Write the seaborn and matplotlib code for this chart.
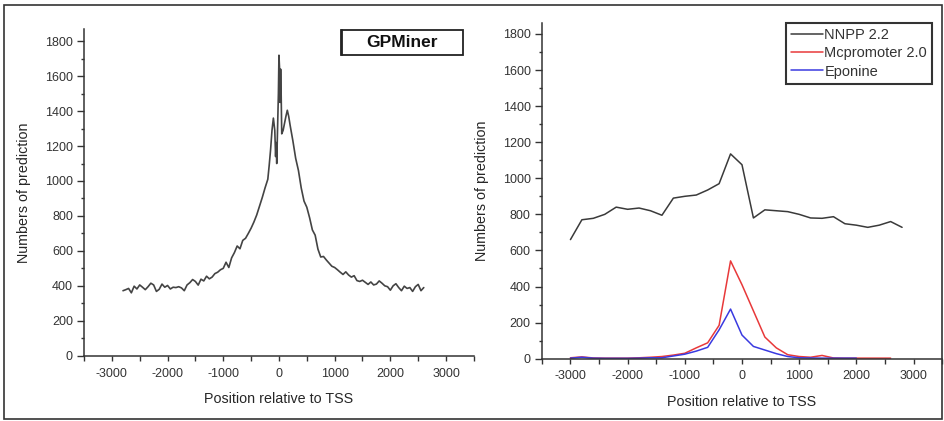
import numpy as np
import pandas as pd
import matplotlib
matplotlib.use("Agg")
import matplotlib.pyplot as plt
from matplotlib.patches import Rectangle
from matplotlib.ticker import MultipleLocator
import seaborn as sns

# GPMiner prediction counts (left panel)
gp_pos = [
    -2800, -2750, -2700, -2650, -2600, -2550, -2500, -2450, -2400, -2350,
    -2300, -2250, -2200, -2150, -2100, -2050, -2000, -1950, -1900, -1850,
    -1800, -1750, -1700, -1650, -1600, -1550, -1500, -1450, -1400, -1350,
    -1300, -1250, -1200, -1150, -1100, -1050, -1000, -950, -900, -850,
    -800, -750, -700, -650, -600, -550, -500, -450, -400, -350,
    -300, -250, -200, -175, -150, -125, -100, -75, -60, -50,
    -40, -25, -10, 0, 10, 20, 30, 40, 50, 75,
    100, 125, 150, 175, 200, 250, 300, 350, 400, 450,
    500, 550, 600, 650, 700, 750, 800, 850, 900, 950,
    1000, 1050, 1100, 1150, 1200, 1250, 1300, 1350, 1400, 1450,
    1500, 1550, 1600, 1650, 1700, 1750, 1800, 1850, 1900, 1950,
    2000, 2050, 2100, 2150, 2200, 2250, 2300, 2350, 2400, 2450,
    2500, 2550, 2600,
]
gp_count = [
    372, 378, 385, 360, 398, 382, 405, 392, 378, 395,
    415, 405, 368, 380, 410, 392, 402, 382, 392, 390,
    395, 388, 372, 405, 418, 436, 425, 404, 438, 428,
    455, 440, 450, 470, 478, 492, 500, 535, 505, 560,
    590, 628, 612, 660, 672, 700, 730, 765, 805, 855,
    905, 960, 1010, 1090, 1180, 1290, 1360, 1290, 1140, 1220,
    1100, 1300, 1500, 1720, 1650, 1450, 1640, 1490, 1270, 1290,
    1330, 1370, 1405, 1370, 1320, 1230, 1130, 1060, 960, 885,
    850, 790, 720, 690, 610, 565, 568, 548, 530, 512,
    505, 492, 478, 465, 480, 462, 450, 458, 430, 425,
    432, 420, 408, 422, 405, 410, 428, 415, 400, 395,
    375, 400, 412, 390, 372, 398, 385, 390, 368, 395,
    408, 372, 390,
]

# other tools (right panel)
nnpp_pos = list(range(-3000, 2801, 200))
nnpp_count = [
    660, 770, 778, 800, 840, 828, 835, 820, 795, 890,
    900, 907, 935, 970, 1135, 1075, 780, 825, 820, 815,
    800, 780, 778, 787, 748, 740, 728, 740, 760, 728,
]
mcp_pos = list(range(-3000, 2601, 200))
mcp_count = [
    5, 10, 4, 3, 3, 3, 5, 8, 12, 20,
    30, 60, 88, 185, 542, 410, 265, 120, 60, 22,
    12, 8, 18, 4, 3, 3, 3, 3, 3,
]
epo_pos = list(range(-3000, 2001, 200))
epo_count = [
    3, 8, 3, 2, 2, 2, 3, 5, 5, 15,
    25, 42, 63, 160, 275, 131, 68, 48, 28, 12,
    5, 4, 3, 3, 3, 3,
]

tool_names = ["NNPP 2.2", "Mcpromoter 2.0", "Eponine"]
tool_colors = {"NNPP 2.2": "#3a3a3a", "Mcpromoter 2.0": "#e8393a", "Eponine": "#3a3ae0"}

gp_df = pd.DataFrame({"pos": gp_pos, "count": gp_count})
tools_df = pd.concat([
    pd.DataFrame({"pos": nnpp_pos, "count": nnpp_count, "tool": tool_names[0]}),
    pd.DataFrame({"pos": mcp_pos, "count": mcp_count, "tool": tool_names[1]}),
    pd.DataFrame({"pos": epo_pos, "count": epo_count, "tool": tool_names[2]}),
])

sns.set_style("ticks")
plt.rcParams["font.family"] = ["Liberation Sans", "DejaVu Sans"]
plt.rcParams["axes.edgecolor"] = "#333333"
plt.rcParams["text.color"] = "#333333"
plt.rcParams["axes.unicode_minus"] = False

tick_font = ["Liberation Sans Narrow", "Liberation Sans", "DejaVu Sans"]

fig = plt.figure(figsize=(9.44, 4.21), dpi=100)
ax1 = fig.add_axes([0.089, 0.1551, 0.413, 0.776])
ax2 = fig.add_axes([0.574, 0.1480, 0.424, 0.798])

sns.lineplot(data=gp_df, x="pos", y="count", ax=ax1,
             color="#444444", linewidth=1.2, sort=False)

sns.lineplot(data=tools_df, x="pos", y="count", hue="tool",
             palette=tool_colors, hue_order=tool_names, ax=ax2,
             linewidth=1.1, sort=False, estimator=None)

for ax, top in [(ax1, 1870), (ax2, 1862)]:
    ax.set_xlim(-3500, 3500)
    ax.set_ylim(0, top)
    ax.xaxis.set_major_locator(MultipleLocator(1000))
    ax.xaxis.set_minor_locator(MultipleLocator(500))
    ax.yaxis.set_major_locator(MultipleLocator(200))
    ax.yaxis.set_minor_locator(MultipleLocator(100))
    ax.spines["top"].set_visible(False)
    ax.spines["right"].set_visible(False)
    ax.spines["left"].set_linewidth(1.1)
    ax.spines["bottom"].set_linewidth(1.1)
    ax.tick_params(axis="y", which="major", length=5, width=1, color="#333333", pad=3)
    ax.tick_params(axis="y", which="minor", length=2.5, width=1, color="#333333")
    ax.tick_params(axis="x", which="both", length=3.5, width=1, color="#333333", pad=5)
    for lab in ax.get_xticklabels() + ax.get_yticklabels():
        lab.set_family(tick_font)
        lab.set_fontsize(9)
        lab.set_color("#333333")
    ax.set_xlabel("Position relative to TSS", fontsize=10.3, labelpad=9)
    ax.set_ylabel("Numbers of prediction", fontsize=10.3, labelpad=10)

# GPMiner label box
ax1.add_patch(Rectangle((0.658, 0.92), 0.314, 0.077, transform=ax1.transAxes,
                        facecolor="white", edgecolor="#222222", linewidth=1.3,
                        clip_on=False))
ax1.plot([0.662, 0.662], [0.92, 0.997], transform=ax1.transAxes,
         color="#222222", linewidth=1.3, clip_on=False)
ax1.text(0.815, 0.958, "GPMiner", transform=ax1.transAxes, ha="center",
         va="center", fontsize=12.5, fontweight="bold", color="#111111")

leg = ax2.legend(loc="upper right", bbox_to_anchor=(0.975, 1.0),
                 borderaxespad=0, frameon=True, fancybox=False,
                 fontsize=10.5, handlelength=2.2, handletextpad=0.1,
                 labelspacing=0.3, borderpad=0.35, title=None)
leg.get_frame().set_edgecolor("black")
leg.get_frame().set_linewidth(1.5)
for line in leg.get_lines():
    line.set_linewidth(1.1)

# outer frame round the whole figure
fig.add_artist(Rectangle((0.004, 0.005), 0.994, 0.983, transform=fig.transFigure,
                         fill=False, edgecolor="#333333", linewidth=1.2))

fig.savefig("out.png", dpi=100, facecolor="white")
plt.close(fig)
